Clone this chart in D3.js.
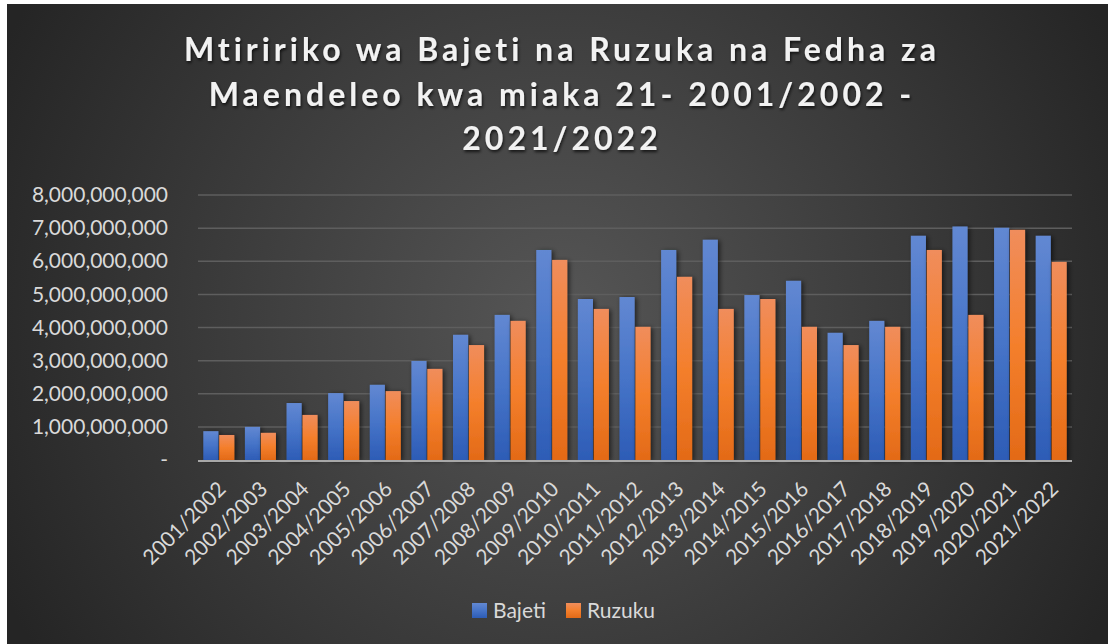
<!DOCTYPE html>
<html>
<head>
<meta charset="utf-8">
<script src="https://cdn.jsdelivr.net/npm/d3@7"></script>
<style>
  html, body { margin: 0; padding: 0; background: #fff; }
  svg { display: block; }
</style>
</head>
<body>
<div id="cont"></div>
<script>
// Data
var years = ["2001/2002","2002/2003","2003/2004","2004/2005","2005/2006","2006/2007",
  "2007/2008","2008/2009","2009/2010","2010/2011","2011/2012","2012/2013","2013/2014",
  "2014/2015","2015/2016","2016/2017","2017/2018","2018/2019","2019/2020","2020/2021","2021/2022"];
var bajeti = [0.87e9, 1.0e9, 1.72e9, 2.02e9, 2.27e9, 2.99e9, 3.78e9, 4.38e9, 6.34e9, 4.86e9,
  4.92e9, 6.34e9, 6.65e9, 4.98e9, 5.41e9, 3.84e9, 4.2e9, 6.77e9, 7.05e9, 7.01e9, 6.77e9];
var ruzuku = [0.755e9, 0.82e9, 1.36e9, 1.78e9, 2.08e9, 2.75e9, 3.47e9, 4.2e9, 6.04e9, 4.56e9,
  4.02e9, 5.53e9, 4.56e9, 4.86e9, 4.02e9, 3.47e9, 4.02e9, 6.34e9, 4.38e9, 6.95e9, 5.98e9];
var seriesNames = ["Bajeti", "Ruzuku"];
var yTicks = [0, 1e9, 2e9, 3e9, 4e9, 5e9, 6e9, 7e9, 8e9];
var titleLines = ["Mtiririko wa Bajeti na Ruzuka na Fedha za",
  "Maendeleo kwa miaka 21- 2001/2002 -", "2021/2022"];

var W = 1108, H = 644;
var plot = {left: 198, right: 1072, top: 195, bottom: 460};

var svg = d3.select("#cont").append("svg")
    .attr("width", W)
    .attr("height", H);

var defs = svg.append("defs");

var bg = defs.append("radialGradient")
    .attr("id", "bg").attr("gradientUnits", "userSpaceOnUse")
    .attr("cx", 560).attr("cy", 320).attr("r", 620);
bg.append("stop").attr("offset", "0%").attr("stop-color", "#565656");
bg.append("stop").attr("offset", "100%").attr("stop-color", "#252525");

var grads = [["gBlue", "#6288d2", "#4674c8", "#2d5cb6"], ["gOrange", "#f08d5c", "#f47f2c", "#e36a17"]];
grads.forEach(function(g) {
    var lg = defs.append("linearGradient").attr("id", g[0])
        .attr("x1", 0).attr("y1", 0).attr("x2", 0).attr("y2", 1);
    lg.append("stop").attr("offset", "0%").attr("stop-color", g[1]);
    lg.append("stop").attr("offset", "50%").attr("stop-color", g[2]);
    lg.append("stop").attr("offset", "100%").attr("stop-color", g[3]);
});

var sh = defs.append("filter").attr("id", "shadow")
    .attr("x", "-50%").attr("y", "-10%").attr("width", "200%").attr("height", "120%");
sh.append("feDropShadow").attr("dx", 2).attr("dy", 1).attr("stdDeviation", 2.5)
    .attr("flood-color", "#000").attr("flood-opacity", 0.6);

var tsh = defs.append("filter").attr("id", "tshadow")
    .attr("x", "-10%").attr("y", "-30%").attr("width", "120%").attr("height", "160%");
tsh.append("feDropShadow").attr("dx", 1).attr("dy", 2).attr("stdDeviation", 1.5)
    .attr("flood-color", "#000").attr("flood-opacity", 0.7);

// chart area
svg.append("rect")
    .attr("x", 7).attr("y", 4)
    .attr("width", W - 7).attr("height", H - 4)
    .attr("fill", "url(#bg)");

// scales
var x0 = d3.scaleBand()
    .domain(years)
    .range([plot.left, plot.right])
    .paddingInner(0.255)
    .paddingOuter(0.1275);

var x1 = d3.scaleBand()
    .domain(seriesNames)
    .range([0, x0.bandwidth()])
    .paddingInner(0.05);

var y = d3.scaleLinear()
    .domain([0, 8e9])
    .range([plot.bottom, plot.top]);

// gridlines
svg.append("g")
    .selectAll("line")
    .data(yTicks.slice(1))
    .join("line")
    .attr("x1", plot.left).attr("x2", plot.right)
    .attr("y1", function(d) { return y(d); })
    .attr("y2", function(d) { return y(d); })
    .attr("stroke", "#5e5e5e")
    .attr("stroke-width", 1.5);

// y axis
var yAxis = svg.append("g")
    .attr("transform", "translate(168,0)")
    .call(d3.axisLeft(y).tickValues(yTicks).tickSize(0).tickPadding(0)
        .tickFormat(function(d) { return d === 0 ? "-" : d3.format(",")(d); }));
yAxis.select(".domain").remove();
yAxis.selectAll("text")
    .attr("fill", "#d9d9d9")
    .style("font-family", "Lato, 'Open Sans', sans-serif")
    .style("font-size", "21px");

// bars
var rows = years.map(function(yr, i) {
    return {year: yr, vals: [{k: "Bajeti", v: bajeti[i]}, {k: "Ruzuku", v: ruzuku[i]}]};
});

var groups = svg.append("g")
    .selectAll("g")
    .data(rows)
    .join("g")
    .attr("transform", function(d) { return "translate(" + x0(d.year) + ",0)"; });

groups.selectAll("rect")
    .data(function(d) { return d.vals; })
    .join("rect")
    .attr("x", function(d) { return x1(d.k); })
    .attr("width", x1.bandwidth())
    .attr("y", function(d) { return y(d.v); })
    .attr("height", function(d) { return y(0) - y(d.v); })
    .attr("fill", function(d) { return d.k === "Bajeti" ? "url(#gBlue)" : "url(#gOrange)"; })
    .attr("filter", "url(#shadow)");

// baseline
svg.append("line")
    .attr("x1", plot.left).attr("x2", plot.right)
    .attr("y1", y(0) + 1).attr("y2", y(0) + 1)
    .attr("stroke", "#a8a8a8")
    .attr("stroke-width", 2);

// x axis labels
var xAxis = svg.append("g")
    .attr("transform", "translate(0," + (y(0) + 20) + ")")
    .call(d3.axisBottom(x0).tickSize(0).tickPadding(0));
xAxis.select(".domain").remove();
xAxis.selectAll("text")
    .attr("fill", "#d9d9d9")
    .style("font-family", "Lato, 'Open Sans', sans-serif")
    .style("font-size", "21px")
    .attr("text-anchor", "end")
    .attr("dy", "0.7em")
    .attr("transform", "translate(-2,0) rotate(-45)");

// title
var title = svg.append("g").attr("filter", "url(#tshadow)");
titleLines.forEach(function(t, i) {
    title.append("text")
        .attr("x", 562)
        .attr("y", 61 + i * 44.5)
        .attr("text-anchor", "middle")
        .attr("fill", "#f2f2f2")
        .style("font-family", "Lato, 'Open Sans', sans-serif")
        .style("font-weight", "bold")
        .style("font-size", "32px")
        .style("letter-spacing", "4px")
        .text(t);
});

// legend
var legend = svg.append("g")
    .selectAll("g")
    .data(seriesNames)
    .join("g")
    .attr("transform", function(d, i) { return "translate(" + (472 + i * 94) + ",603)"; });
legend.append("rect")
    .attr("width", 15).attr("height", 15)
    .attr("fill", function(d) { return d === "Bajeti" ? "url(#gBlue)" : "url(#gOrange)"; });
legend.append("text")
    .attr("x", 21).attr("y", 15)
    .attr("fill", "#d9d9d9")
    .style("font-family", "Lato, 'Open Sans', sans-serif")
    .style("font-size", "21px")
    .text(function(d) { return d; });
</script>
</body>
</html>
